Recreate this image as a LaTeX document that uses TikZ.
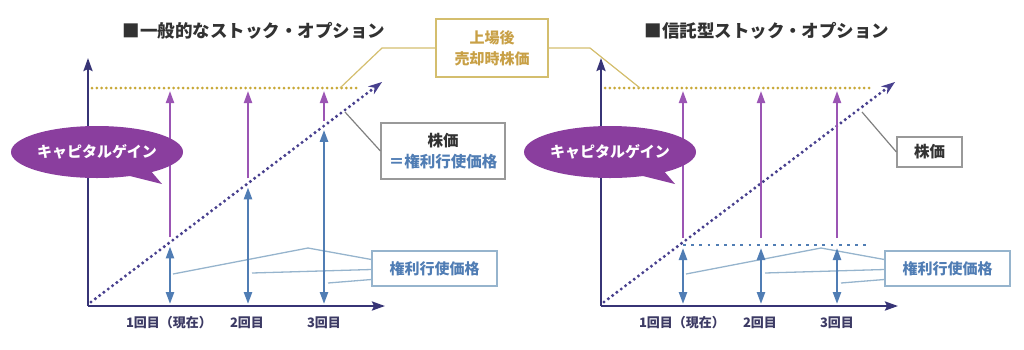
\documentclass[tikz,border=0pt]{standalone}
\usepackage{fontspec}
\setmainfont{Noto Sans CJK JP}
\usepackage{tikz}
\usetikzlibrary{arrows.meta, positioning, calc, shapes.geometric}

\definecolor{axisnavy}{RGB}{55,52,118}
\definecolor{diagnavy}{RGB}{72,64,142}
\definecolor{purp}{RGB}{155,85,180}
\definecolor{capfill}{RGB}{138,62,158}
\definecolor{exblue}{RGB}{80,125,180}
\definecolor{exlight}{RGB}{150,180,205}
\definecolor{goldln}{RGB}{212,190,110}
\definecolor{golddot}{RGB}{200,168,55}
\definecolor{goldtxt}{RGB}{200,160,70}
\definecolor{txtdark}{RGB}{50,50,50}
\definecolor{ticktxt}{RGB}{60,58,100}

\begin{document}
\begin{tikzpicture}[x=1pt, y=-1pt, font=\bfseries,
    axisline/.style={draw=axisnavy, line width=2.4pt, -{Stealth[inset=2pt, width=9pt, length=13pt]}},
    diagline/.style={draw=diagnavy, line width=3.4pt, line cap=round, dash pattern=on 0pt off 5.4pt,
      -{Stealth[width=10pt, length=14pt, line cap=butt, line width=0pt]}},
    golddots/.style={draw=golddot, line width=3pt, line cap=round, dash pattern=on 0pt off 4.8pt},
    bluedots/.style={draw=exblue, line width=2.6pt, dash pattern=on 2.8pt off 5.4pt},
    blueArrow/.style={draw=exblue, line width=2.4pt, {Triangle[width=8pt, length=12pt]}-{Triangle[width=8pt, length=12pt]}},
    purpArrow/.style={draw=purp, line width=2pt, -{Triangle[width=8pt, length=12pt]}},
    capell/.style={ellipse, fill=capfill, text=white, minimum width=172pt, minimum height=52pt, inner sep=0pt,
      font=\bfseries\fontsize{15}{18}\selectfont},
    exbox/.style={draw=exlight, line width=1.2pt, text=exblue, minimum width=125pt, minimum height=35pt,
      font=\bfseries\fontsize{15}{18}\selectfont},
    graybox/.style={draw=gray!80, line width=1.2pt, text=txtdark, align=center, inner sep=0pt,
      font=\bfseries\fontsize{15.5}{21}\selectfont},
    goldbox/.style={draw=goldln, line width=1.2pt, text=goldtxt, align=center, minimum width=112pt, minimum height=58pt,
      font=\bfseries\fontsize{15}{21}\selectfont},
    exline/.style={draw=exlight, line width=1.3pt},
    grayline/.style={draw=gray, line width=1.2pt},
    goldline/.style={draw=goldln, line width=1.2pt},
    ticklbl/.style={text=ticktxt, font=\bfseries\fontsize{13}{15}\selectfont},
    ttl/.style={text=txtdark, font=\bfseries\fontsize{17.5}{20}\selectfont}]
\useasboundingbox (0,0) rectangle (1024,349);

% common parts of both panels
\foreach \ox/\head in {0/■一般的なストック・オプション, 513/■信託型ストック・オプション} {
  \begin{scope}[xshift=\ox pt]
    \node[ttl] (ttl\ox) at (254,31) {\head};
    \coordinate (O\ox) at (88,306);
    \draw[axisline] (O\ox) -- (88,58);
    \draw[axisline] (O\ox) -- (385,306);
    \draw[golddots] (92,88) -- (358,88);
    \draw[diagline] (91,302) -- (382,82);
    \node[ticklbl] (t1\ox) at (169,323) {1回目（現在）};
    \node[ticklbl] (t2\ox) at (247,323) {2回目};
    \node[ticklbl] (t3\ox) at (324,323) {3回目};
    \node[exbox] (ex\ox) at (434.5,268.5) {権利行使価格};
    \draw[exline] ($(ex\ox.west)+(0,-9)$) -- (308,248) -- (173,274);
    \draw[exline] ($(ex\ox.west)+(0,1)$) -- (252,273);
    \draw[exline] ($(ex\ox.west)+(0,11)$) -- (328,283);
  \end{scope}
}

% left panel: gains measured from the diagonal
\foreach \x in {170,248,324} {
  \pgfmathsetmacro\yd{303-0.757*(\x-90)}
  \draw[blueArrow] (\x,\yd+4) -- (\x,304);
  \draw[purpArrow] (\x,\yd-5) -- (\x,91);
}
\node[graybox, minimum width=124pt, minimum height=56pt] (kb) at (443,151)
  {株価\\\textcolor{exblue}{＝権利行使価格}};
\draw[grayline] (kb.west) -- (345,112);

% right panel: gains measured from the fixed price
\begin{scope}[xshift=513pt]
  \draw[bluedots] (170,245) -- (355,245);
  \foreach \x in {170,248,324} {
    \draw[blueArrow] (\x,248) -- (\x,304);
    \draw[purpArrow] (\x,238) -- (\x,91);
  }
\end{scope}
\node[graybox, minimum width=65pt, minimum height=30pt] (kb2) at (929.5,152) {株価};
\draw[grayline] (kb2.west) -- (862,112);

% listing price box
\node[goldbox] (ls) at (492,48) {上場後\\売却時株価};
\draw[goldline] (ls.west) -- (382,48) -- (340,88);
\draw[goldline] (ls.east) -- (590,48) -- (640,88);

% capital gain callouts
\foreach \ox in {0,513} {
  \begin{scope}[xshift=\ox pt]
    \fill[capfill] (126,175) -- (162,184) -- (150,170) -- cycle;
    \node[capell] (cg\ox) at (97,152) {キャピタルゲイン};
  \end{scope}
}
\end{tikzpicture}
\end{document}
